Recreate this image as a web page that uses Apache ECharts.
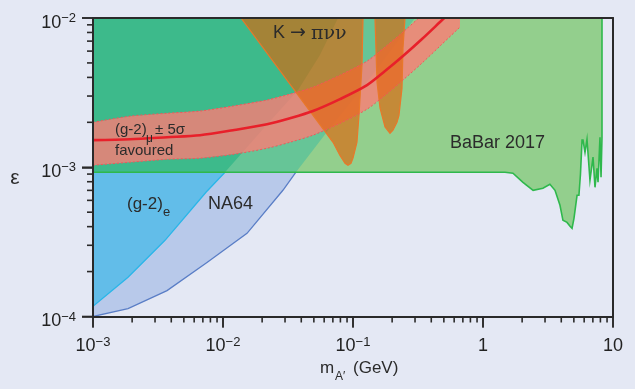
<!DOCTYPE html>
<html><head><meta charset="utf-8">
<script src="https://cdn.jsdelivr.net/npm/echarts@6/dist/echarts.min.js"></script>
<style>html,body{margin:0;padding:0;background:#e4e8f4}#c{width:635px;height:389px}</style>
</head><body><div id="c"></div>
<script>
// ---- data ----
const xDecades = [0.001, 0.01, 0.1, 1];
const yDecades = [0.0001, 0.001];
const xMajor = [0.001, 0.01, 0.1, 1, 10];
const yMajor = [0.0001, 0.001, 0.01];
const minorMult = [2, 3, 4, 5, 6, 7, 8, 9];

const babarBound = [[0.001,9.26e-4],[1.476,9.26e-4],[1.70,9.12e-4],[2.03,7.93e-4],[2.43,7.01e-4],[2.89,7.23e-4],[3.27,7.69e-4],[3.58,7.01e-4],[3.91,5.56e-4],[4.12,4.41e-4],[4.43,4.27e-4],[4.67,4.02e-4],[4.84,3.90e-4],[5.01,4.55e-4],[5.29,6.49e-4],[5.47,6.49e-4],[5.62,9.0e-4],[5.78,1.52e-3],[5.88,1.52e-3],[6.09,1.26e-3],[6.31,1.54e-3],[6.65,8.19e-4],[7.02,1.17e-3],[7.27,7.34e-4],[7.53,9.85e-4],[7.67,7.93e-4],[7.94,1.59e-3],[8.09,8.57e-4],[8.23,1.59e-3],[8.23,1e-2]];
const g2eBound = [[0.001,1.17e-4],[1.86e-3,1.83e-4],[3.58e-3,3.24e-4],[7.40e-3,6.80e-4],[1.036e-2,9.26e-4],[1.995e-2,1.77e-3],[3.78e-2,3.29e-3],[5.57e-2,5.65e-3],[7.67e-2,1e-2]];
const na64Bound = [[0.001,1e-4],[1.86e-3,1.13e-4],[3.71e-3,1.49e-4],[7.53e-3,2.30e-4],[1.53e-2,3.61e-4],[2.89e-2,7.01e-4],[3.64e-2,9.26e-4],[6.65e-2,1.83e-3],[0.1351,3.96e-3],[0.2999,1e-2]];
const kLobe1 = [[1.375e-2,1e-2],[7.02e-2,1.47e-3],[7.94e-2,1.20e-3],[8.68e-2,1.063e-3],[9.15e-2,1.031e-3],[9.65e-2,1.063e-3],[0.1,1.15e-3],[0.1073,1.47e-3],[0.1112,2.23e-3],[0.1173,4.84e-3],[0.1194,1e-2]];
const kLobe2 = [[0.1476,1e-2],[0.153,3.72e-3],[0.1614,2.49e-3],[0.1763,1.86e-3],[0.1926,1.69e-3],[0.2031,1.77e-3],[0.218,2.00e-3],[0.2258,2.23e-3],[0.2382,3.39e-3],[0.2424,6.29e-3],[0.2512,1e-2]];
const bandX = [1e-3,1.926e-3,3.71e-3,6.65e-3,1.194e-2,2.18e-2,3.275e-2,4.92e-2,7.94e-2,0.1282,0.1763,0.2424,0.3395,0.4669,0.665];
const bandMid = [1.52e-3,1.54e-3,1.59e-3,1.64e-3,1.77e-3,1.94e-3,2.13e-3,2.38e-3,2.86e-3,3.55e-3,4.41e-3,5.56e-3,7.23e-3,9.40e-3,1.26e-2];
const bandUp = [2.00e-3,2.20e-3,2.30e-3,2.38e-3,2.57e-3,2.82e-3,3.09e-3,3.44e-3,4.14e-3,5.14e-3,6.39e-3,8.05e-3,1.047e-2,1.36e-2,1.83e-2];
const bandLo = [1.031e-3,1.08e-3,1.13e-3,1.15e-3,1.22e-3,1.34e-3,1.47e-3,1.64e-3,1.97e-3,2.45e-3,3.04e-3,3.84e-3,4.99e-3,6.49e-3,8.70e-3];

// ---- derived shapes ----
const X0 = 0.001, YTOP = 0.01, Y0 = 0.0001;
const yB = babarBound[0][1];
const babarPoly = babarBound.concat([[X0, YTOP]]);
const na64Low = na64Bound.filter(p => p[1] <= yB).concat([[X0, yB]]);
const na64Up = [[X0, yB]].concat(na64Bound.filter(p => p[1] >= yB), [[X0, YTOP]]);
const g2eLow = g2eBound.filter(p => p[1] <= yB).concat([[X0, yB]]);
const g2eUp = [[X0, yB]].concat(g2eBound.filter(p => p[1] >= yB), [[X0, YTOP]]);
const zip = (xs, ys) => xs.map((x, i) => [x, ys[i]]);
const bandUpPts = zip(bandX, bandUp), bandLoPts = zip(bandX, bandLo), bandMidPts = zip(bandX, bandMid);
const bandPoly = bandUpPts.concat(bandLoPts.slice().reverse());
const xMinor = [], yMinor = [];
xDecades.forEach(d => minorMult.forEach(m => xMinor.push(d * m)));
yDecades.forEach(d => minorMult.forEach(m => yMinor.push(d * m)));

const F = '"Liberation Sans", Arial, sans-serif';
const TXT = '#2b2b2b';
const AX = '#2a2a2a';

function poly(pts, style) {
  return { type: 'custom', coordinateSystem: 'cartesian2d', clip: true, silent: true, data: [pts[0]],
    renderItem: (p, api) => ({ type: 'polygon', shape: { points: pts.map(q => api.coord(q)) }, style: style }) };
}
function line(pts, style, smooth) {
  return { type: 'custom', coordinateSystem: 'cartesian2d', clip: true, silent: true, data: [pts[0]],
    renderItem: (p, api) => ({ type: 'polyline', shape: { points: pts.map(q => api.coord(q)), smooth: smooth || 0 },
      style: Object.assign({ fill: null }, style) }) };
}
function ticks(vals, isX, len) {
  const pts = vals.map(v => isX ? [v, Y0] : [X0, v]);
  return { type: 'custom', coordinateSystem: 'cartesian2d', clip: false, silent: true, z: 20,
    data: pts,
    renderItem: (p, api) => {
      const c = api.coord(pts[p.dataIndex]);
      const s = isX ? { x1: c[0], y1: c[1], x2: c[0], y2: c[1] + len } : { x1: c[0] - len, y1: c[1], x2: c[0], y2: c[1] };
      return { type: 'line', shape: s, style: { stroke: AX, lineWidth: 1.6 } };
    } };
}
const fmt = v => {
  const e = Math.round(Math.log10(v));
  if (e === 0) return '{b|1}';
  if (e === 1) return '{b|10}';
  return '{b|10}{s|\u2212' + (-e) + '}';
};
const rich = {
  b: { fontSize: 18, fontFamily: F, color: '#222', lineHeight: 20, verticalAlign: 'bottom' },
  s: { fontSize: 13, fontFamily: F, color: '#222', lineHeight: 12, verticalAlign: 'top' }
};
const axLine = () => ({ show: true, onZero: false, lineStyle: { color: AX, width: 2 } });
const majorTick = { show: true, length: 11, lineStyle: { color: AX, width: 1.6 } };

function txt(x, y, t, size, align, fam) {
  return { type: 'text', x: x, y: y, z: 100,
    style: { text: t, fontSize: size, fontFamily: fam || F, fill: TXT, align: align || 'left', verticalAlign: 'middle' } };
}

const chart = echarts.init(document.getElementById('c'));
chart.setOption({
  animation: false,
  backgroundColor: '#e4e8f4',
  grid: { left: 93, right: 22, top: 18, bottom: 72.5, containLabel: false, outerBoundsMode: 'none' },
  xAxis: [
    { type: 'log', logBase: 10, min: 0.001, max: 10, position: 'bottom', z: 10, axisLine: axLine(),
      axisTick: majorTick,
      axisLabel: { margin: 19, formatter: fmt, rich: rich }, splitLine: { show: false } },
    { type: 'log', logBase: 10, min: 0.001, max: 10, position: 'top', z: 10, axisLine: axLine(),
      axisTick: { show: false }, axisLabel: { show: false }, splitLine: { show: false } }
  ],
  yAxis: [
    { type: 'log', logBase: 10, min: 0.0001, max: 0.01, position: 'left', z: 10, axisLine: axLine(),
      axisTick: majorTick,
      axisLabel: { margin: 17, formatter: fmt, rich: rich, padding: [8, 0, 0, 0] }, splitLine: { show: false } },
    { type: 'log', logBase: 10, min: 0.0001, max: 0.01, position: 'right', z: 10, axisLine: axLine(),
      axisTick: { show: false }, axisLabel: { show: false }, splitLine: { show: false } }
  ],
  series: [
    poly(babarPoly, { fill: '#93cf8d' }),
    poly(na64Low, { fill: '#b8c9ea' }),
    poly(g2eLow, { fill: '#62bde9' }),
    poly(na64Up, { fill: '#66c597' }),
    poly(g2eUp, { fill: '#3dba8b' }),
    line(g2eBound.filter(p => p[1] <= yB), { stroke: '#2ab6e8', lineWidth: 1.3 }),
    line(na64Bound.filter(p => p[1] <= yB), { stroke: '#5a7ec6', lineWidth: 1.3 }),
    line(babarBound, { stroke: '#2fb84c', lineWidth: 1.6 }),
    poly(bandPoly, { fill: 'rgba(252,124,118,0.8)' }),
    poly(kLobe1, { fill: 'rgba(225,98,6,0.63)', stroke: '#e8782a', lineWidth: 1.2 }),
    poly(kLobe2, { fill: 'rgba(225,98,6,0.63)', stroke: '#e8782a', lineWidth: 1.2 }),
    line(bandUpPts, { stroke: '#f2555a', lineWidth: 1, lineDash: [2, 2] }, 0.3),
    line(bandLoPts, { stroke: '#f2555a', lineWidth: 1, lineDash: [2, 2] }, 0.3),
    line(bandMidPts, { stroke: '#e8202a', lineWidth: 2.6 }, 0.3),
    ticks(xMinor, true, 6),
    ticks(yMinor, false, 6),
    ticks(xMajor, true, 11),
    ticks(yMajor, false, 11)
  ],
  graphic: [
    txt(273, 33, 'K', 18),
    txt(290, 33, '\u2192', 19, 'left', '"DejaVu Sans", sans-serif'),
    txt(311, 34, '\u03c0\u03bd\u03bd', 19, 'left', '"DejaVu Serif", serif'),
    txt(115, 130, '(g-2)', 15),
    txt(146, 139, '\u03bc', 12),
    txt(155, 130, '\u00b1 5\u03c3', 15),
    txt(115, 151, 'favoured', 15),
    txt(127, 204, '(g-2)', 17),
    txt(163, 212, 'e', 13),
    txt(208, 204, 'NA64', 18),
    txt(450, 143, 'BaBar 2017', 18),
    txt(15, 178, '\u03b5', 21, 'center'),
    txt(320, 368, 'm', 17),
    txt(335, 377, 'A\u2032', 12),
    txt(353, 368, '(GeV)', 17)
  ]
});
</script></body></html>
